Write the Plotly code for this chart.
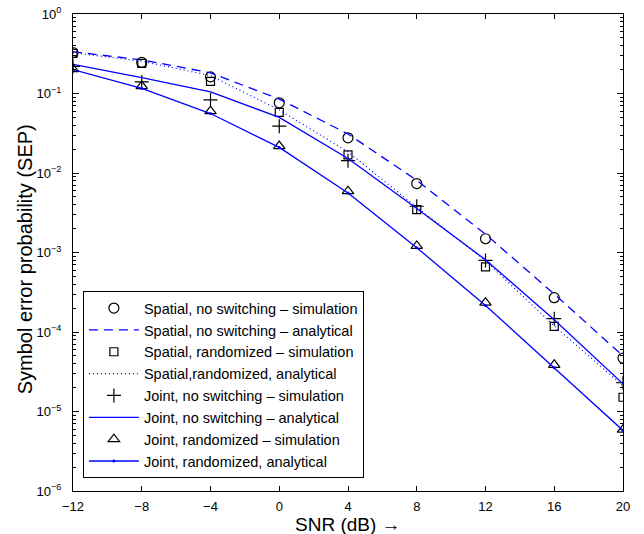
import plotly.graph_objects as go

# SNR grid (dB)
snr_db = [-12, -8, -4, 0, 4, 8, 12, 16, 20]

# Spatial modulation, no switching
spatial_noswitch_sim = [0.326, 0.246, 0.162, 0.0764, 0.0277, 0.00737, 0.00149, 2.70e-4, 4.7e-5]
spatial_noswitch_ana = [0.335, 0.265, 0.182, 0.085, 0.031, 0.0081, 0.0017, 3.0e-4, 5.0e-5]

# Spatial modulation, randomized
spatial_random_sim = [0.32, 0.239, 0.142, 0.0578, 0.0169, 0.00347, 6.6e-4, 1.18e-4, 1.51e-5]
spatial_random_ana = [0.325, 0.255, 0.168, 0.062, 0.0185, 0.0037, 7.9e-4, 1.19e-4, 2.1e-5]

# Joint modulation, no switching
joint_noswitch_sim = [0.22, 0.14, 0.083, 0.0388, 0.0143, 0.00382, 7.95e-4, 1.47e-4, 2.3e-5]
joint_noswitch_ana = [0.232, 0.158, 0.105, 0.05, 0.0152, 0.00357, 8.1e-4, 1.43e-4, 2.23e-5]

# Joint modulation, randomized
joint_random_sim = [0.203, 0.124, 0.06, 0.0218, 0.0059, 0.00121, 2.34e-4, 3.87e-5, 5.9e-6]
joint_random_ana = [0.2, 0.116, 0.056, 0.021, 0.0056, 0.00115, 2.16e-4, 3.55e-5, 5.77e-6]

x_ticks = [-12, -8, -4, 0, 4, 8, 12, 16, 20]
x_ticktext = ["\u221212", "\u22128", "\u22124", "0", "4", "8", "12", "16", "20"]
y_ticks = [1, 1e-1, 1e-2, 1e-3, 1e-4, 1e-5, 1e-6]
y_ticktext = ["10<sup>0</sup>", "10<sup>\u22121</sup>", "10<sup>\u22122</sup>", "10<sup>\u22123</sup>",
              "10<sup>\u22124</sup>", "10<sup>\u22125</sup>", "10<sup>\u22126</sup>"]

BLUE = "#0000ff"
FONT = "Liberation Sans, Arial, sans-serif"

fig = go.Figure()

def sim_trace(y, symbol, name, size):
    return go.Scatter(x=snr_db, y=y, mode="markers", name=name,
                      marker=dict(symbol=symbol, size=size, color="black",
                                  line=dict(color="black", width=1.2)))

def ana_trace(y, dash, name, width=1.3, marker=False):
    return go.Scatter(x=snr_db, y=y, mode="lines+markers" if marker else "lines", name=name,
                      line=dict(color=BLUE, width=width, dash=dash),
                      marker=dict(symbol="circle", size=3, color=BLUE))

fig.add_trace(sim_trace(spatial_noswitch_sim, "circle-open", "Spatial, no switching \u2013 simulation", 10))
fig.add_trace(ana_trace(spatial_noswitch_ana, "9px,6px", "Spatial, no switching \u2013 analytical"))
fig.add_trace(sim_trace(spatial_random_sim, "square-open", "Spatial, randomized \u2013 simulation", 8))
fig.add_trace(ana_trace(spatial_random_ana, "1px,3px", "Spatial,randomized, analytical", width=1.2))
fig.add_trace(sim_trace(joint_noswitch_sim, "cross-thin-open", "Joint, no switching \u2013 simulation", 10))
fig.add_trace(ana_trace(joint_noswitch_ana, "solid", "Joint, no switching \u2013 analytical"))
fig.add_trace(sim_trace(joint_random_sim, "triangle-up-open", "Joint, randomized \u2013 simulation", 10))
fig.add_trace(ana_trace(joint_random_ana, "solid", "Joint, randomized, analytical", marker=True))

# minor ticks at 2..9 of each decade
minor_vals = [m * 10.0 ** e for e in range(-6, 0) for m in range(2, 10)]

fig.update_layout(
    width=644, height=534,
    margin=dict(l=73, r=21, t=14, b=43),
    paper_bgcolor="white", plot_bgcolor="white",
    font=dict(family=FONT, size=13, color="black"),
    showlegend=True,
    legend=dict(x=0.018, y=0.027, xanchor="left", yanchor="bottom",
                bgcolor="white", bordercolor="black", borderwidth=1,
                font=dict(family=FONT, size=14.5, color="black"),
                itemwidth=50, tracegroupgap=0),
    xaxis=dict(
        range=[-12, 20], tickmode="array", tickvals=x_ticks, ticktext=x_ticktext,
        ticks="inside", ticklen=5, tickwidth=1, tickcolor="black",
        showline=True, linecolor="black", linewidth=1.3, mirror="allticks",
        showgrid=False, zeroline=False, ticklabelstandoff=3, automargin=False,
        tickfont=dict(family=FONT, size=13),
    ),
    yaxis=dict(
        type="log", range=[-6, 0], tickmode="array", tickvals=y_ticks, ticktext=y_ticktext,
        ticks="inside", ticklen=6, tickwidth=1, tickcolor="black",
        minor=dict(tickmode="array", tickvals=minor_vals, ticks="inside", ticklen=3,
                   tickcolor="black", tickwidth=1, showgrid=False),
        showline=True, linecolor="black", linewidth=1.3, mirror="allticks",
        showgrid=False, zeroline=False, ticklabelstandoff=8, automargin=False,
        tickfont=dict(family=FONT, size=13),
    ),
    annotations=[
        dict(text="SNR (dB) \u2192", xref="paper", yref="paper", x=0.5, y=-0.071,
             xanchor="center", yanchor="middle", showarrow=False,
             font=dict(family=FONT, size=19)),
        dict(text="Symbol error probability (SEP)", xref="paper", yref="paper",
             x=-0.087, y=0.486, xanchor="center", yanchor="middle", textangle=-90,
             showarrow=False, font=dict(family=FONT, size=20)),
    ],
)

fig.write_html("out.html")
